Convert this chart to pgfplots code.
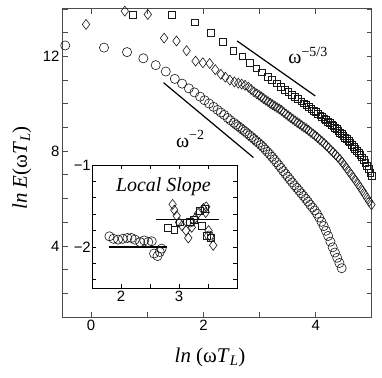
\documentclass[border=0pt]{standalone}
\usepackage{fontspec}
\setmainfont{Liberation Serif}
\setsansfont{Liberation Sans}
\usepackage{pgfplots}
\usepackage{pgfplotstable}
\pgfplotsset{compat=1.18}

% spectra (circles, diamonds, squares)
\pgfplotstableread{
x y
-0.46 12.46
0.23 12.37
0.64 12.18
0.93 11.92
1.15 11.63
1.33 11.36
1.49 11.05
1.62 10.85
1.74 10.65
1.84 10.48
1.94 10.30
2.02 10.15
2.10 10.01
2.18 9.87
2.25 9.74
2.31 9.63
2.37 9.53
2.43 9.40
2.48 9.30
2.54 9.20
2.58 9.12
2.62 9.05
2.66 8.98
2.70 8.90
2.74 8.83
2.78 8.75
2.82 8.67
2.86 8.59
2.90 8.51
2.94 8.43
2.98 8.35
3.02 8.26
3.06 8.17
3.10 8.07
3.14 7.97
3.18 7.87
3.22 7.76
3.26 7.65
3.30 7.53
3.34 7.41
3.38 7.29
3.42 7.16
3.46 7.04
3.50 6.92
3.54 6.80
3.58 6.68
3.62 6.56
3.66 6.45
3.70 6.34
3.74 6.22
3.78 6.11
3.82 5.99
3.86 5.87
3.90 5.74
3.94 5.62
3.98 5.50
4.02 5.36
4.06 5.20
4.10 5.02
4.14 4.84
4.18 4.64
4.22 4.42
4.26 4.18
4.30 3.94
4.34 3.72
4.38 3.50
4.42 3.28
4.46 3.06
}\circdata

\pgfplotstableread{
x y
-0.09 13.35
0.60 13.91
1.01 13.77
1.30 12.77
1.52 12.65
1.70 12.24
1.86 11.80
1.99 11.73
2.11 11.70
2.21 11.44
2.31 11.24
2.39 11.12
2.47 11.00
2.55 10.92
2.62 10.87
2.68 10.83
2.74 10.78
2.80 10.70
2.85 10.60
2.90 10.50
2.95 10.42
2.99 10.36
3.03 10.29
3.07 10.22
3.11 10.15
3.15 10.09
3.19 10.02
3.23 9.96
3.27 9.90
3.31 9.84
3.35 9.78
3.39 9.72
3.43 9.64
3.47 9.56
3.51 9.49
3.55 9.42
3.59 9.35
3.63 9.28
3.67 9.21
3.71 9.15
3.75 9.08
3.79 9.01
3.83 8.95
3.87 8.88
3.91 8.80
3.95 8.73
3.99 8.65
4.03 8.57
4.07 8.49
4.11 8.41
4.15 8.32
4.19 8.23
4.23 8.14
4.27 8.04
4.31 7.95
4.35 7.85
4.39 7.75
4.43 7.65
4.47 7.53
4.51 7.40
4.55 7.27
4.59 7.14
4.63 7.01
4.67 6.88
4.71 6.75
4.75 6.61
4.79 6.47
4.83 6.33
4.87 6.18
4.91 6.03
4.95 5.88
4.99 5.74
}\diamdata

\pgfplotstableread{
x y
0.74 13.77
1.43 13.77
1.84 13.44
2.13 13.00
2.35 12.62
2.53 12.25
2.69 12.00
2.82 11.72
2.94 11.50
3.04 11.33
3.14 11.15
3.22 11.00
3.30 10.86
3.38 10.72
3.45 10.60
3.51 10.50
3.57 10.39
3.63 10.29
3.68 10.20
3.74 10.10
3.78 10.02
3.83 9.94
3.87 9.86
3.92 9.78
3.96 9.71
4.00 9.66
4.04 9.59
4.08 9.51
4.11 9.45
4.15 9.38
4.18 9.32
4.22 9.24
4.25 9.18
4.28 9.12
4.31 9.06
4.34 9.00
4.37 8.93
4.40 8.86
4.43 8.79
4.46 8.72
4.49 8.65
4.52 8.58
4.55 8.51
4.58 8.44
4.61 8.37
4.64 8.28
4.67 8.19
4.70 8.10
4.73 8.01
4.76 7.92
4.79 7.83
4.82 7.74
4.85 7.65
4.88 7.52
4.91 7.38
4.94 7.24
4.97 7.10
5.00 6.96
}\sqdata

% local slopes (inset)
\pgfplotstableread{
x y
1.80 -1.87
1.87 -1.90
1.95 -1.91
2.03 -1.90
2.11 -1.89
2.18 -1.89
2.24 -1.91
2.33 -1.94
2.40 -1.92
2.47 -1.94
2.53 -1.93
2.57 -2.08
2.63 -2.11
2.67 -2.06
2.70 -2.02
3.20 -1.70
3.52 -1.86
}\incirc

\pgfplotstableread{
x y
2.80 -1.77
2.92 -1.79
3.02 -1.70
3.19 -1.69
3.25 -1.67
3.36 -1.56
3.39 -1.74
3.45 -1.53
3.48 -1.86
3.55 -1.89
}\insq

\pgfplotstableread{
x y
2.89 -1.48
2.92 -1.55
2.96 -1.62
3.00 -1.70
3.05 -1.74
3.12 -1.80
3.16 -1.89
3.22 -1.76
3.28 -1.65
3.33 -1.59
3.42 -1.53
3.46 -1.58
3.47 -1.51
3.51 -1.80
3.55 -1.88
3.59 -1.98
}\indiam

\pgfplotsset{
  circ/.style={only marks, mark=o, mark size=4.6bp, mark options={line width=0.6bp, draw=black!90}},
  diam/.style={only marks, mark=diamond, mark size=5bp, mark options={line width=0.6bp, draw=black!90}},
  sq/.style={only marks, mark=square, mark size=3.4bp, mark options={line width=0.6bp, draw=black!90}},
}

\begin{document}
\begin{tikzpicture}
\begin{axis}[name=main, at={(0,0)}, anchor=south west,
  scale only axis, width=309bp, height=308bp,
  xmin=-0.5, xmax=5, ymin=1, ymax=14,
  xtick={0,1,2,3,4}, xticklabels={0,,2,,4},
  ytick={1,2,...,14}, yticklabels={,,,4,,,,8,,,,12,,},
  tick align=inside, major tick length=5bp,
  tick style={black!70, line width=0.8bp},
  axis line style={black!70, line width=1bp},
  tick label style={font=\sffamily\fontsize{15}{15}\selectfont},
  /pgf/number format/assume math mode=true,
  clip=false,
  every axis y label/.style={at={(axis description cs:-0.133,0.484)}, rotate=90, anchor=center},
  every axis x label/.style={at={(axis description cs:0.476,-0.13)}, anchor=center},
  label style={font=\fontsize{21}{21}\selectfont},
  xlabel={\textit{ln} (ω\textit{T}\textsubscript{\textit{L}})},
  ylabel={\textit{ln E}(ω\textit{T}\textsubscript{\textit{L}})},
]
\addplot[circ] table {\circdata};
\addplot[diam] table {\diamdata};
\addplot[sq] table {\sqdata};
\addplot[black, line width=1.2bp] coordinates {(2.60,12.65) (3.99,10.33)};
\addplot[black, line width=1.2bp] coordinates {(1.29,10.89) (2.89,7.73)};
\node[anchor=base west, inner sep=0, font=\fontsize{20}{20}\selectfont] at (axis cs:3.51,11.69) {ω\textsuperscript{−5/3}};
\node[anchor=base west, inner sep=0, font=\fontsize{20}{20}\selectfont] at (axis cs:1.51,8.16) {ω\textsuperscript{−2}};
\end{axis}

\begin{axis}[name=inset, at={(29bp,29bp)}, anchor=south west,
  scale only axis, width=145bp, height=123bp,
  xmin=1.5, xmax=4, ymin=-2.5, ymax=-1,
  xtick={2,2.5,3,3.5}, xticklabels={2,,3,},
  ytick={-2.4,-2.2,-2,-1.8,-1.6,-1.4,-1.2,-1}, yticklabels={,,−2,,,,,−1},
  axis background/.style={fill=white},
  tick align=inside, major tick length=4bp,
  tick style={black, line width=0.6bp},
  axis line style={black, line width=0.9bp},
  tick label style={font=\sffamily\fontsize{15}{15}\selectfont},
  yticklabel style={inner sep=1bp},
  clip=false,
]
\addplot[circ] table {\incirc};
\addplot[sq] table {\insq};
\addplot[diam] table {\indiam};
\addplot[black, line width=1.3bp] coordinates {(1.79,-2) (2.79,-2)};
\addplot[black, line width=1.3bp] coordinates {(2.60,-1.667) (3.69,-1.667)};
\node[font=\itshape\fontsize{20}{20}\selectfont] at (axis cs:2.73,-1.26) {Local Slope};
\end{axis}

\pgfresetboundingbox
\path[use as bounding box] (-63bp,-61bp) rectangle (319bp,317bp);
\end{tikzpicture}
\end{document}
